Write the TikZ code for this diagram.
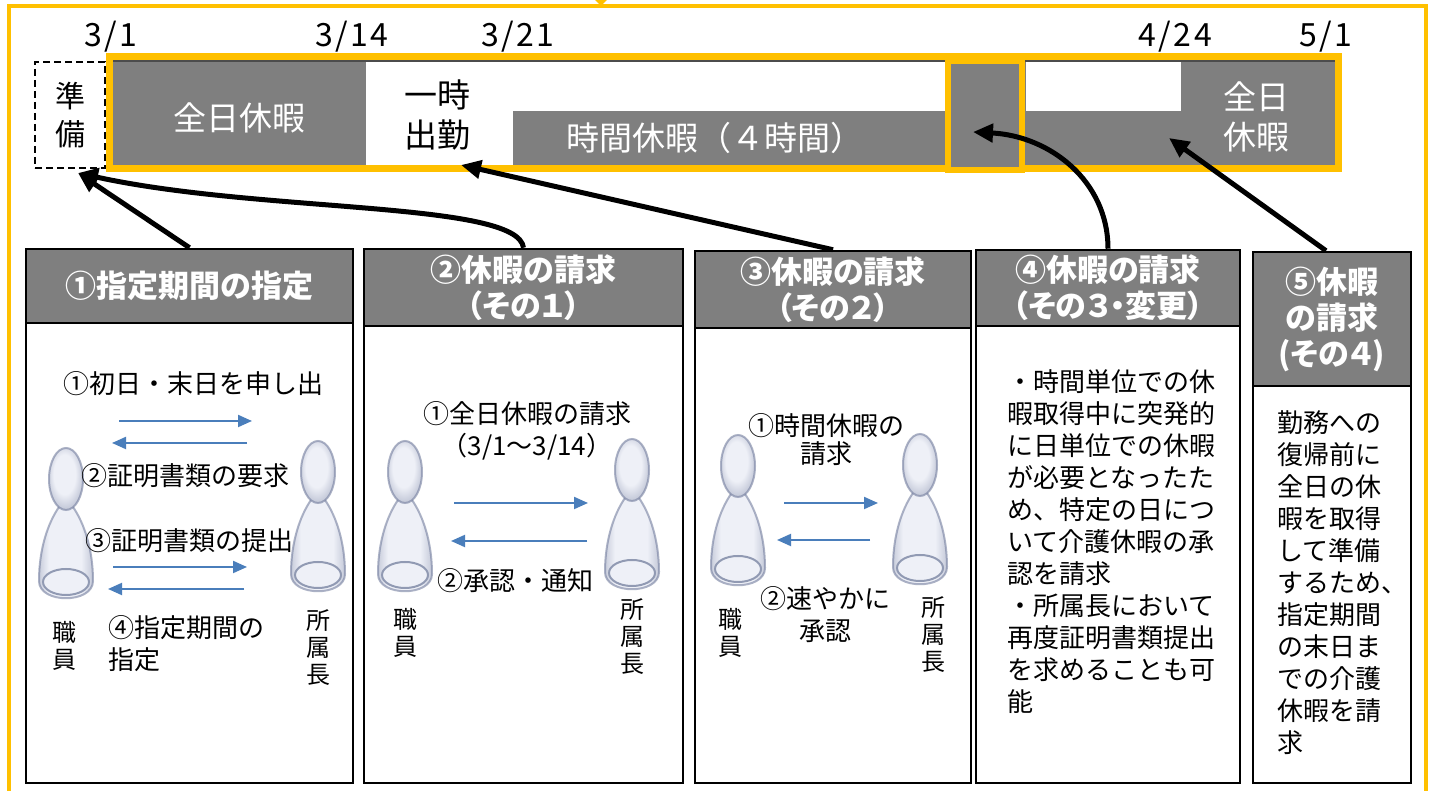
\documentclass[tikz,border=0pt]{standalone}
\usepackage{fontspec}
\setmainfont{Noto Sans CJK JP}
\newfontfamily\hdfont[RawFeature=+palt]{Noto Sans CJK JP}
\newfontfamily\datefont[LetterSpace=8]{Noto Sans CJK JP}
\usetikzlibrary{arrows.meta,positioning}

\definecolor{yel}{RGB}{255,192,0}
\definecolor{barg}{RGB}{127,127,127}
\definecolor{blu}{RGB}{74,126,187}
\definecolor{figd}{RGB}{118,128,160}
\definecolor{figl}{RGB}{238,240,247}

\pgfdeclareradialshading{headsh}{\pgfpoint{-3bp}{5bp}}{color(0bp)=(figl); color(16bp)=(figl);
  color(30bp)=(figd!45!figl); color(42bp)=(figd!85!figl); color(60bp)=(figd)}
\pgfdeclarehorizontalshading{bodysh}{100bp}{color(0bp)=(figd); color(14bp)=(figd!70!figl);
  color(34bp)=(figl); color(64bp)=(figl); color(86bp)=(figd!70!figl); color(100bp)=(figd)}

\tikzset{
  person/.pic={
    \shade[shading=bodysh, draw=figd, draw opacity=.6, line width=2pt]
      (-7,2) .. controls (-18,-14) and (-27,-40) .. (-27,-72)
      .. controls (-27,-95) and (27,-95) .. (27,-72)
      .. controls (27,-40) and (18,-14) .. (7,2) -- cycle;
    \draw[figd!80!white, line width=2pt, fill=figl] (0,-73) ellipse [x radius=23, y radius=13];
    \shade[shading=headsh, draw=figd, draw opacity=.6, line width=2pt]
      (0,30) ellipse [x radius=17, y radius=31];
  }
}

\begin{document}
\begin{tikzpicture}[x=1pt, y=1pt,
    hd/.style={draw=black, line width=2.5pt, fill=barg, text=white, align=center,
      inner sep=0pt, font=\hdfont\bfseries\fontsize{31}{36}\selectfont},
    bx/.style={draw=black, line width=2.5pt, fill=white, inner sep=0pt},
    txt/.style={align=center, inner sep=0pt, font=\fontsize{26}{32}\selectfont},
    who/.style={align=center, inner sep=0pt, font=\fontsize{24}{27}\selectfont},
    bartxt/.style={align=center, inner sep=0pt, font=\fontsize{33}{40}\selectfont},
    date/.style={inner sep=0pt, font=\datefont\fontsize{32}{34}\selectfont},
    big/.style={-{Triangle[length=20pt,width=18pt]}, line width=5pt, black},
    barr/.style={-{Triangle[length=14pt,width=12pt]}, line width=2pt, blu}]

    \useasboundingbox (0,0) rectangle (1438,791);

    \draw[yel, line width=4pt] (9,-10) -- (9,784.5) -- (1426,784.5) -- (1426,-10);
    \fill[yel] (595,791) -- (607,791) -- (601,785) -- cycle;

    \node[date] (d1) at (111,754) {3/1};
    \node[date] (d2) at (352,754) {3/14};
    \node[date] (d3) at (518,754) {3/21};
    \node[date] (d4) at (1175,754) {4/24};
    \node[date] (d5) at (1326,754) {5/1};

    \node[draw=black, line width=2.5pt, dash pattern=on 7pt off 4pt,
      minimum width=70, minimum height=106, align=center, inner sep=0pt,
      font=\fontsize{30}{38}\selectfont] (prep) at (70,676) {準\\備};

    \fill[barg] (110,623) rectangle (1338,734);
    \fill[white] (366,626) rectangle (513,731);
    \fill[white] (513,680) rectangle (945,731);
    \fill[white] (1026,680) rectangle (1181,731);
    \draw[black!70, line width=1.5pt] (113,730) -- (1335,730);
    \draw[yel, line width=7pt] (109.5,622.5) rectangle (1338.5,734.5);
    \node[draw=yel, fill=barg, line width=6pt, minimum width=74,
      minimum height=109] (chg) at (985,675.5) {};

    \node[bartxt, text=white] (zen) at (239,673) {全日休暇};
    \node[bartxt] (ichiji) at (437,676) {一時\\出勤};
    \node[bartxt, text=white] (jikan) at (715,653) {時間休暇（４時間）};
    \node[bartxt, text=white] (zen2) at (1256,674) {全日\\休暇};

    \node[bx, minimum width=327, minimum height=460] (bd1) at (189.5,238) {};
    \node[hd, minimum width=327, minimum height=74] (hd1) at (189.5,505) {①指定期間の指定};
    \node[bx, minimum width=319, minimum height=457] (bd2) at (523.5,236.5) {};
    \node[hd, minimum width=319, minimum height=77] (hd2) at (523.5,503.5) {②休暇の請求\\（その１）};
    \node[bx, minimum width=276, minimum height=455] (bd3) at (833,235.5) {};
    \node[hd, minimum width=276, minimum height=77] (hd3) at (833,501.5) {③休暇の請求\\（その２）};
    \node[bx, minimum width=264, minimum height=457] (bd4) at (1108,236.5) {};
    \node[hd, minimum width=264, minimum height=76] (hd4) at (1108,503) {④休暇の請求\\（その３・変更）};
    \node[bx, minimum width=158, minimum height=397] (bd5) at (1332,206.5) {};
    \node[hd, minimum width=158, minimum height=134] (hd5) at (1332,472) {⑤休暇\\の請求\\(その４)};

    \coordinate (t1) at (78,618);
    \coordinate (t3) at (461,626);
    \coordinate (t4) at (973,659);
    \coordinate (t5) at (1169,653);
    \draw[big] (hd1.north) -- (t1);
    \draw[big] (hd2.north) .. controls (518,590) and (260,578) .. (t1);
    \draw[big] (hd3.north) -- (t3);
    \draw[big] (hd4.north) .. controls (1108,610) and (1050,655) .. (t4);
    \draw[big] ([xshift=-6pt]hd5.north) -- (t5);

    \pic at (66,282) {person};
    \pic at (318,289) {person};
    \pic at (405,289) {person};
    \pic at (632,291) {person};
    \pic at (738,295) {person};
    \pic at (920,296) {person};

    \foreach \n/\xa/\xb/\y in {1/119/252/370, 2/247/112/348, 3/113/247/224, 4/244/108/202,
      5/454/588/288, 6/587/451/250, 7/784/878/288, 8/870/777/251} {
      \coordinate (s\n) at (\xa,\y);
      \coordinate (e\n) at (\xb,\y);
      \draw[barr] (s\n) -- (e\n);
    }

    \node[txt] (p1a) at (193.5,407) {①初日・末日を申し出};
    \node[txt] (p1b) at (185,315) {②証明書類の要求};
    \node[txt] (p1c) at (189,250) {③証明書類の提出};
    \node[txt, align=left, anchor=west] (p1d) at (108,147) {④指定期間の\\指定};
    \node[who] (s1) at (64,145.5) {職\\員};
    \node[who] (m1) at (318,143.5) {所\\属\\長};

    \node[txt] (p2a) at (527,360) {①全日休暇の請求\\（3/1～3/14）};
    \node[txt] (p2b) at (515,210) {②承認・通知};
    \node[who] (s2) at (405,158.5) {職\\員};
    \node[who] (m2) at (632,154.5) {所\\属\\長};

    \node[txt] (p3a) at (826,351) {①時間休暇の\\[-4pt]請求};
    \node[txt] (p3b) at (825,176) {②速やかに\\承認};
    \node[who] (s3) at (730,158.5) {職\\員};
    \node[who] (m3) at (933,156.5) {所\\属\\長};

    \node[txt, align=left, anchor=west] (p4) at (1007,249) {・時間単位での休\\暇取得中に突発的\\に日単位での休暇\\が必要となったた\\め、特定の日につ\\いて介護休暇の承\\認を請求\\・所属長において\\再度証明書類提出\\を求めることも可\\能};
    \node[txt, align=left, anchor=west] (p5) at (1277,208.5) {勤務への\\復帰前に\\全日の休\\暇を取得\\して準備\\するため、\\指定期間\\の末日ま\\での介護\\休暇を請\\求};
\end{tikzpicture}
\end{document}
